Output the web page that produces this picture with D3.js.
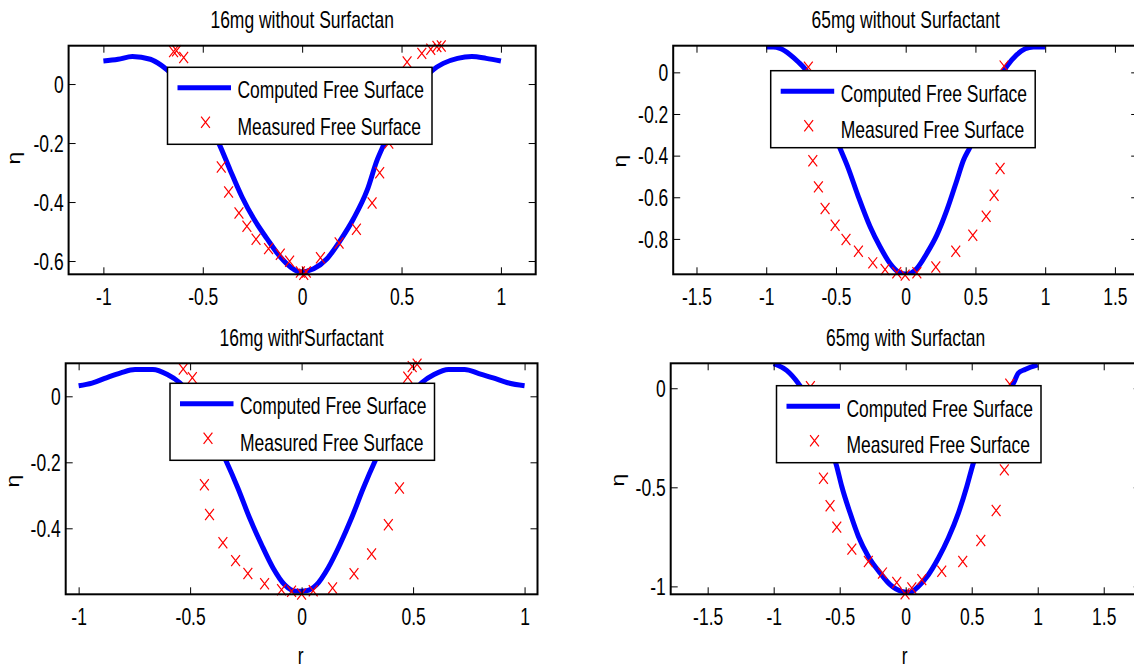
<!DOCTYPE html>
<html>
<head>
<meta charset="utf-8">
<title>Free surface comparison</title>
<script src="https://d3js.org/d3.v7.min.js"></script>
<style>
    body { margin: 0; background: #fff; }
    svg text { font-family: "Liberation Sans", Arial, sans-serif; font-size: 23px; fill: #000; }
    .box { fill: none; stroke: #000; stroke-width: 2px; }
    .tick line { stroke: #000; stroke-width: 1px; }
    .curve { fill: none; stroke: #0000ff; stroke-width: 5px; stroke-linejoin: round; stroke-linecap: butt; }
    .mark { fill: none; stroke: #ff0000; stroke-width: 1.2px; }
    .legend rect { fill: #fff; stroke: #000; stroke-width: 1.5px; }
</style>
</head>
<body>
<svg width="1134" height="664"></svg>
<script>
    // ---- data ----
    var titles = ["16mg without Surfactan", "65mg without Surfactant", "16mg with Surfactant", "65mg with Surfactan"];
    var legendLabels = ["Computed Free Surface", "Measured Free Surface"];

    // panel 1: 16mg without surfactant
    var p1CompR = [-1.0, -0.926, -0.854, -0.764, -0.71, -0.678, -0.415, -0.362, -0.303, -0.244, -0.177, -0.11, -0.059, -0.009,
        0.058, 0.125, 0.192, 0.259, 0.327, 0.377, 0.41, 0.656, 0.71, 0.782, 0.854, 0.926, 1.0];
    var p1CompEta = [0.078, 0.084, 0.093, 0.084, 0.064, 0.047, -0.207, -0.292, -0.382, -0.456, -0.524, -0.586, -0.62, -0.637,
        -0.626, -0.592, -0.53, -0.456, -0.36, -0.258, -0.207, 0.047, 0.07, 0.087, 0.093, 0.087, 0.078];
    var p1MeasR = [-0.647, -0.632, -0.596, -0.407, -0.37, -0.318, -0.278, -0.232, -0.169, -0.11, -0.063, -0.009, 0.008, 0.021,
        0.092, 0.186, 0.273, 0.352, 0.39, 0.436, 0.528, 0.602, 0.647, 0.678, 0.70];
    var p1MeasEta = [0.11, 0.113, 0.09, -0.281, -0.366, -0.437, -0.482, -0.526, -0.558, -0.577, -0.601, -0.637, -0.645, -0.637,
        -0.589, -0.539, -0.492, -0.403, -0.301, -0.2, 0.075, 0.104, 0.118, 0.127, 0.129];

    // panel 2: 65mg without surfactant
    var p2CompR = [-1.0, -0.95, -0.901, -0.829, -0.77, -0.722, -0.471, -0.411, -0.339, -0.255, -0.184, -0.112, -0.052, 0.008,
        0.08, 0.151, 0.223, 0.295, 0.367, 0.414, 0.457, 0.725, 0.797, 0.857, 0.916, 0.96, 1.0];
    var p2CompEta = [0.122, 0.122, 0.115, 0.085, 0.05, 0.017, -0.365, -0.462, -0.598, -0.742, -0.838, -0.918, -0.959, -0.97,
        -0.942, -0.87, -0.782, -0.662, -0.518, -0.422, -0.365, 0.029, 0.085, 0.113, 0.122, 0.122, 0.122];
    var p2MeasR = [-0.698, -0.666, -0.626, -0.578, -0.506, -0.428, -0.339, -0.236, -0.148, -0.064, -0.004, 0.08, 0.216, 0.359,
        0.481, 0.577, 0.634, 0.677, 0.705];
    var p2MeasEta = [0.025, -0.425, -0.55, -0.654, -0.734, -0.803, -0.859, -0.915, -0.947, -0.963, -0.974, -0.963, -0.935, -0.859,
        -0.782, -0.691, -0.59, -0.462, 0.03];

    // panel 3: 16mg with surfactant
    var p3CompR = [-1.0, -0.94, -0.876, -0.811, -0.747, -0.667, -0.602, -0.546, -0.338, -0.286, -0.233, -0.18, -0.128, -0.076,
        -0.023, 0.022, 0.067, 0.119, 0.172, 0.224, 0.277, 0.329, 0.538, 0.594, 0.659, 0.731, 0.795, 0.859, 0.924, 1.0];
    var p3CompEta = [0.032, 0.04, 0.056, 0.071, 0.081, 0.081, 0.066, 0.041, -0.197, -0.278, -0.369, -0.449, -0.52, -0.571,
        -0.591, -0.589, -0.571, -0.52, -0.449, -0.369, -0.278, -0.197, 0.041, 0.066, 0.081, 0.081, 0.069, 0.056, 0.041, 0.032];
    var p3MeasR = [-0.531, -0.49, -0.436, -0.413, -0.353, -0.296, -0.241, -0.166, -0.09, -0.045, 0.0, 0.052, 0.139, 0.235,
        0.314, 0.389, 0.439, 0.476, 0.496, 0.518];
    var p3MeasEta = [0.083, 0.056, -0.268, -0.358, -0.444, -0.498, -0.537, -0.568, -0.586, -0.591, -0.599, -0.589, -0.581, -0.538,
        -0.478, -0.389, -0.278, 0.058, 0.09, 0.097];

    // panel 4: 65mg with surfactant
    var p4CompR = [-1.0, -0.902, -0.814, -0.522, -0.484, -0.421, -0.358, -0.283, -0.194, -0.118, -0.03, 0.033, 0.096, 0.172,
        0.248, 0.323, 0.399, 0.463, 0.508, 0.822, 0.853, 0.904, 1.0];
    var p4CompEta = [0.124, 0.09, 0.025, -0.395, -0.496, -0.63, -0.748, -0.849, -0.932, -0.991, -1.025, -1.03, -1.0, -0.941,
        -0.857, -0.756, -0.63, -0.496, -0.387, 0.033, 0.076, 0.095, 0.118];
    var p4MeasR = [-0.722, -0.623, -0.573, -0.522, -0.408, -0.283, -0.176, -0.068, -0.005, 0.046, 0.122, 0.273, 0.432, 0.569,
        0.685, 0.747, 0.788];
    var p4MeasEta = [0.008, -0.454, -0.593, -0.701, -0.812, -0.874, -0.933, -0.98, -1.037, -1.008, -0.966, -0.924, -0.874, -0.768,
        -0.617, -0.412, 0.02];

    // ticks
    var xTicksSmall = [-1, -0.5, 0, 0.5, 1];
    var xLabelsSmall = ["-1", "-0.5", "0", "0.5", "1"];
    var xTicksWide = [-1.5, -1, -0.5, 0, 0.5, 1, 1.5];
    var xLabelsWide = ["-1.5", "-1", "-0.5", "0", "0.5", "1", "1.5"];
    var yTicks1 = [-0.6, -0.4, -0.2, 0];
    var yLabels1 = ["-0.6", "-0.4", "-0.2", "0"];
    var yTicks2 = [-0.8, -0.6, -0.4, -0.2, 0];
    var yLabels2 = ["-0.8", "-0.6", "-0.4", "-0.2", "0"];
    var yTicks3 = [-0.4, -0.2, 0];
    var yLabels3 = ["-0.4", "-0.2", "0"];
    var yTicks4 = [-1, -0.5, 0];
    var yLabels4 = ["-1", "-0.5", "0"];

    var SX = 0.76; // the picture's text is squeezed horizontally

    var svg = d3.select("svg");

    // showR: the top-right panel's "r" is not visible in the picture
    var panels = [
        {id: 1, left: 68.6, right: 535.7, top: 45.7, bottom: 274.3, xDom: [-1.175, 1.175], yDom: [-0.645, 0.13],
            xT: xTicksSmall, xL: xLabelsSmall, yT: yTicks1, yL: yLabels1, showR: true,
            cr: p1CompR, ce: p1CompEta, mr: p1MeasR, me: p1MeasEta, title: titles[0], legX: 167.5, legY: 67.3, etaX: 19.5, etaY: 158},
        {id: 2, left: 673.2, right: 1138.2, top: 45.7, bottom: 274.3, xDom: [-1.667, 1.667], yDom: [-0.97, 0.128],
            xT: xTicksWide, xL: xLabelsWide, yT: yTicks2, yL: yLabels2, showR: false,
            cr: p2CompR, ce: p2CompEta, mr: p2MeasR, me: p2MeasEta, title: titles[1], legX: 770.7, legY: 70.7, etaX: 625.7, etaY: 161},
        {id: 3, left: 65.7, right: 537.5, top: 363.3, bottom: 594.3, xDom: [-1.058, 1.058], yDom: [-0.6, 0.1],
            xT: xTicksSmall, xL: xLabelsSmall, yT: yTicks3, yL: yLabels3, showR: true,
            cr: p3CompR, ce: p3CompEta, mr: p3MeasR, me: p3MeasEta, title: titles[2], legX: 170, legY: 383.3, etaX: 19.3, etaY: 481},
        {id: 4, left: 670.7, right: 1140.7, top: 363.3, bottom: 594.3, xDom: [-1.78, 1.78], yDom: [-1.04, 0.126],
            xT: xTicksWide, xL: xLabelsWide, yT: yTicks4, yL: yLabels4, showR: true,
            cr: p4CompR, ce: p4CompEta, mr: p4MeasR, me: p4MeasEta, title: titles[3], legX: 776.5, legY: 385.7, etaX: 624, etaY: 480}
    ];

    var xMark = "M-4.4,-5.6L4.4,5.6M-4.4,5.6L4.4,-5.6";

    panels.forEach(drawPanel);

    function squeeze(dx, dy) {
        return "translate(" + dx + "," + dy + ") scale(" + SX + ",1)";
    }

    function drawPanel(p) {
        var g = svg.append("g");
        var x = d3.scaleLinear().domain(p.xDom).range([p.left, p.right]);
        var y = d3.scaleLinear().domain(p.yDom).range([p.bottom, p.top]);
        var cx = (p.left + p.right) / 2;

        svg.append("clipPath").attr("id", "clip" + p.id)
            .append("rect")
            .attr("x", p.left).attr("y", p.top)
            .attr("width", p.right - p.left).attr("height", p.bottom - p.top);

        // computed curve
        var line = d3.line()
            .curve(d3.curveMonotoneX)
            .x(function (d) { return x(d[0]); })
            .y(function (d) { return y(d[1]); });
        g.append("path")
            .attr("class", "curve")
            .attr("clip-path", "url(#clip" + p.id + ")")
            .attr("d", line(d3.zip(p.cr, p.ce)));

        // measured points
        g.selectAll(".mark")
            .data(d3.zip(p.mr, p.me))
            .enter().append("path")
            .attr("class", "mark")
            .attr("d", xMark)
            .attr("transform", function (d) {
                return "translate(" + x(d[0]) + "," + y(d[1]) + ")";
            });

        // axes with inward ticks on all four sides
        var ax = g.append("g").attr("transform", "translate(0," + p.bottom + ")")
            .call(d3.axisBottom(x).tickValues(p.xT)
                .tickFormat(function (d, i) { return p.xL[i]; })
                .tickSizeInner(-7).tickSizeOuter(0));
        ax.select(".domain").remove();
        ax.selectAll("text").attr("y", 0).attr("dy", null).attr("transform", squeeze(0, 31));

        var at = g.append("g").attr("transform", "translate(0," + p.top + ")")
            .call(d3.axisTop(x).tickValues(p.xT).tickFormat("").tickSizeInner(-7).tickSizeOuter(0));
        at.select(".domain").remove();

        var ay = g.append("g").attr("transform", "translate(" + p.left + ",0)")
            .call(d3.axisLeft(y).tickValues(p.yT)
                .tickFormat(function (d, i) { return p.yL[i]; })
                .tickSizeInner(-7).tickSizeOuter(0));
        ay.select(".domain").remove();
        ay.selectAll("text").attr("x", 0).attr("dy", "0.36em").attr("transform", squeeze(-5, 0));

        var ar = g.append("g").attr("transform", "translate(" + p.right + ",0)")
            .call(d3.axisRight(y).tickValues(p.yT).tickFormat("").tickSizeInner(-7).tickSizeOuter(0));
        ar.select(".domain").remove();

        g.append("rect")
            .attr("class", "box")
            .attr("x", p.left).attr("y", p.top)
            .attr("width", p.right - p.left).attr("height", p.bottom - p.top);

        // legend
        var leg = g.append("g").attr("class", "legend")
            .attr("transform", "translate(" + p.legX + "," + p.legY + ")");
        leg.append("rect").attr("width", 264.5).attr("height", 77);
        leg.append("line")
            .attr("x1", 10).attr("x2", 63.5).attr("y1", 20.5).attr("y2", 20.5)
            .attr("stroke", "#0000ff").attr("stroke-width", 5);
        leg.append("path").attr("class", "mark").attr("d", xMark).attr("transform", "translate(38,55)");
        leg.selectAll("text")
            .data(legendLabels)
            .enter().append("text")
            .attr("transform", function (d, i) { return squeeze(70, i === 0 ? 31 : 67.7); })
            .text(function (d) { return d; });

        // labels
        g.append("text")
            .attr("text-anchor", "middle")
            .attr("transform", squeeze(cx, p.top - 17.4))
            .text(p.title);
        if (p.showR) {
            g.append("text")
                .attr("text-anchor", "middle")
                .attr("transform", squeeze(cx - 1, p.bottom + 70))
                .text("r");
        }
        g.append("text")
            .attr("text-anchor", "middle")
            .attr("transform", "translate(" + p.etaX + "," + p.etaY + ") scale(" + SX + ",1) rotate(-90)")
            .text("η");
    }
</script>
</body>
</html>
